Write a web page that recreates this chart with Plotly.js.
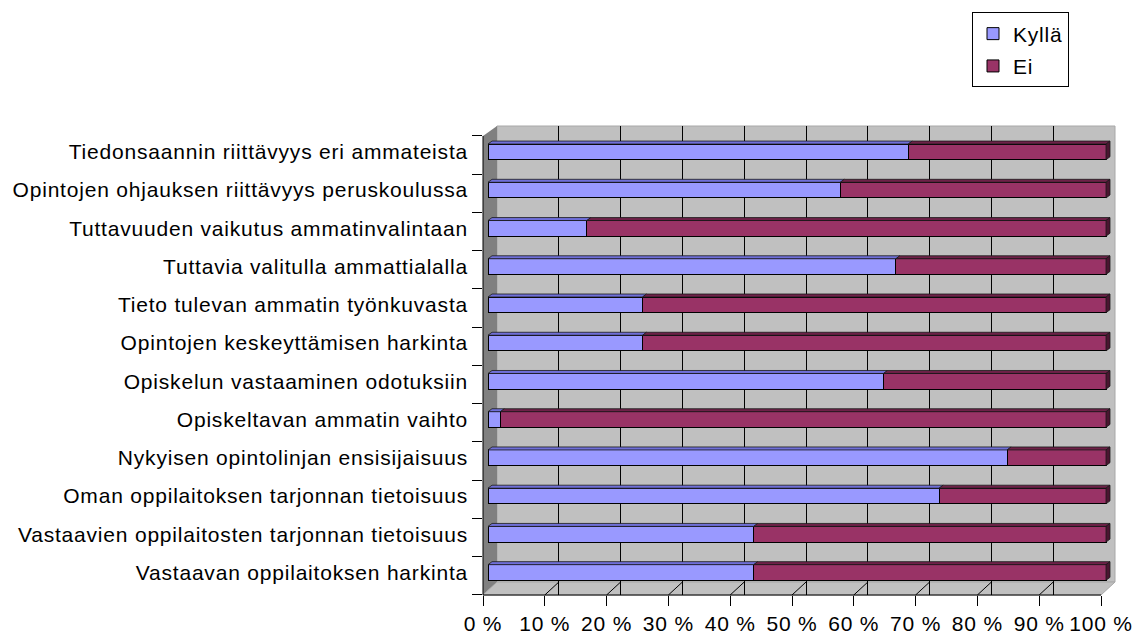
<!DOCTYPE html>
<html><head><meta charset="utf-8">
<script src="https://cdn.plot.ly/plotly-3.0.1.min.js"></script>
<style>
html,body{margin:0;padding:0;background:#fff;}
#chart{width:1143px;height:640px;}
.ytick text, .xtick text, .x3tick text, .legendtext { letter-spacing: 0.8px; }
</style>
</head><body><div id="chart"></div>
<script>
// ---- data (top-to-bottom as in the reference) ----
const categories = [
  'Tiedonsaannin riittävyys eri ammateista',
  'Opintojen ohjauksen riittävyys peruskoulussa',
  'Tuttavuuden vaikutus ammatinvalintaan',
  'Tuttavia valitulla ammattialalla',
  'Tieto tulevan ammatin työnkuvasta',
  'Opintojen keskeyttämisen harkinta',
  'Opiskelun vastaaminen odotuksiin',
  'Opiskeltavan ammatin vaihto',
  'Nykyisen opintolinjan ensisijaisuus',
  'Oman oppilaitoksen tarjonnan tietoisuus',
  'Vastaavien oppilaitosten tarjonnan tietoisuus',
  'Vastaavan oppilaitoksen harkinta'
];
const kylla = [68, 57, 16, 66, 25, 25, 64, 2, 84, 73, 43, 43];
const ei    = [32, 43, 84, 34, 75, 75, 36, 98, 16, 27, 57, 57];
const seriesNames = ['Kyllä', 'Ei'];
const xTickValues = [0, 10, 20, 30, 40, 50, 60, 70, 80, 90, 100];
const xTickLabels = ['0 %', '10 %', '20 %', '30 %', '40 %', '50 %', '60 %', '70 %', '80 %', '90 %', '100 %'];

// ---- layout geometry (pixels) ----
const L = 483, R = 1115, T = 124, B = 595;
const W = R - L, H = B - T;
const xScale = 6.18;          // px per percent
const barX0 = 488;            // front face 0 %
const wallX0 = 497;           // back wall 0 %
const tickX0 = 483;           // front axis 0 %
const yScale = 38.4;          // px per category
const topCenter = 150;        // px of top bar centre
const n = categories.length;
const rowIdx = categories.map((c, i) => n - 1 - i);
const yBottom = -((B - (topCenter + (n - 1) * yScale)) / yScale);
const yTop = (n - 1) + (topCenter - T) / yScale;
const tickOff = 16 / yScale;
const boundaryVals = [];
for (let i = -1; i < n; i++) boundaryVals.push(i + tickOff);

const px = v => (v - L) / W;
const py = v => (B - v) / H;

const font = {family: 'Liberation Sans, Arial, sans-serif', size: 21, color: '#000'};
const colKylla = '#9999ff', colEi = '#993366';

const traces = [
  {type: 'bar', orientation: 'h', name: seriesNames[0], x: kylla, y: rowIdx,
   marker: {color: colKylla, line: {color: '#000', width: 1}}, width: 0.41,
   legendgroup: 'a', hoverinfo: 'skip'},
  {type: 'bar', orientation: 'h', name: seriesNames[1], x: ei, y: rowIdx,
   marker: {color: colEi, line: {color: '#000', width: 1}}, width: 0.41,
   legendgroup: 'b', hoverinfo: 'skip'},
  {type: 'scatter', x: [], y: [], xaxis: 'x2', yaxis: 'y2', showlegend: false, hoverinfo: 'skip'},
  {type: 'scatter', x: [], y: [], xaxis: 'x3', yaxis: 'y2', showlegend: false, hoverinfo: 'skip'}
];

const shapes = [];
// back wall
shapes.push({type: 'rect', xref: 'paper', yref: 'paper', x0: px(wallX0), x1: 1, y0: py(582), y1: 1,
  fillcolor: '#c0c0c0', line: {color: '#a8a8a8', width: 1}, layer: 'below'});
// left wall
shapes.push({type: 'path', xref: 'paper', yref: 'paper', layer: 'between',
  path: `M ${px(483)},${py(134)} L ${px(497)},${py(124)} L ${px(497)},${py(582)} L ${px(483)},${py(595)} Z`,
  fillcolor: '#808080', line: {color: '#808080', width: 0}});
// floor
shapes.push({type: 'path', xref: 'paper', yref: 'paper', layer: 'between',
  path: `M ${px(483)},${py(595)} L ${px(497)},${py(582)} L ${px(1115)},${py(582)} L ${px(1101)},${py(595)} Z`,
  fillcolor: '#c0c0c0', line: {color: '#a8a8a8', width: 1}});
// floor lines
xTickValues.slice(1, -1).forEach(v => {
  shapes.push({type: 'line', xref: 'paper', yref: 'paper', layer: 'between',
    x0: px(tickX0 + v * xScale), y0: 0, x1: px(wallX0 + v * xScale), y1: py(582),
    line: {color: '#000', width: 1}});
});
// axis lines
shapes.push({type: 'line', xref: 'paper', yref: 'paper', x0: 0, x1: 0, y0: py(134), y1: 0,
  line: {color: '#000', width: 1}, layer: 'above'});
shapes.push({type: 'line', xref: 'paper', yref: 'paper', x0: 0, x1: px(tickX0 + 100 * xScale), y0: 0, y1: 0,
  line: {color: '#000', width: 1}, layer: 'above'});
// 3D faces of bars
const dx = 4 / xScale, dy = 3 / yScale, h = 0.205;
rowIdx.forEach((c, i) => {
  const segs = [[0, kylla[i], '#6f6fd8'], [kylla[i], kylla[i] + ei[i], '#6e2148']];
  segs.forEach(([a, b, col]) => {
    if (b <= a) return;
    shapes.push({type: 'path', xref: 'x', yref: 'y', layer: 'above',
      path: `M ${a},${c + h} L ${a + dx},${c + h + dy} L ${b + dx},${c + h + dy} L ${b},${c + h} Z`,
      fillcolor: col, line: {color: '#1a1a1a', width: 0.8}});
  });
  const e = kylla[i] + ei[i];
  shapes.push({type: 'path', xref: 'x', yref: 'y', layer: 'above',
    path: `M ${e},${c + h} L ${e + dx},${c + h + dy} L ${e + dx},${c - h + dy} L ${e},${c - h} Z`,
    fillcolor: '#4a1530', line: {color: '#1a1a1a', width: 0.8}});
});

const layout = {
  width: 1143, height: 640,
  margin: {l: L, r: 1143 - R, t: T, b: 640 - B, pad: 0},
  paper_bgcolor: '#fff', plot_bgcolor: 'rgba(0,0,0,0)',
  barmode: 'stack', bargap: 0.6,
  showlegend: true,
  legend: {x: px(972), xanchor: 'left', y: py(10), yanchor: 'top',
    bordercolor: '#000', borderwidth: 1, bgcolor: '#fff', font: font,
    tracegroupgap: 2, traceorder: 'grouped', itemwidth: 30},
  font: font,
  xaxis: {range: [(L - barX0) / xScale, (R - barX0) / xScale], showgrid: false, zeroline: false,
    showticklabels: false, ticks: '', showline: false, fixedrange: true},
  xaxis2: {overlaying: 'x', anchor: 'y', range: [(L - wallX0) / xScale, (R - wallX0) / xScale],
    tickvals: xTickValues.slice(1, -1), showgrid: true, gridcolor: '#000', gridwidth: 1,
    showticklabels: false, ticks: '', zeroline: false, showline: false, fixedrange: true},
  xaxis3: {overlaying: 'x', anchor: 'y', side: 'bottom', range: [0, W / xScale],
    tickvals: xTickValues, ticktext: xTickLabels, ticks: 'outside', ticklen: 10, tickcolor: '#000',
    tickfont: font, showgrid: false, zeroline: false, showline: false, fixedrange: true},
  yaxis: {range: [yBottom, yTop], tickvals: rowIdx, ticktext: categories, ticks: '',
    showgrid: false, zeroline: false, showline: false, tickfont: font,
    ticklabelstandoff: 14, fixedrange: true},
  yaxis2: {overlaying: 'y', anchor: 'x', side: 'left', range: [yBottom, yTop],
    tickvals: boundaryVals, showticklabels: false, ticks: 'outside', ticklen: 10, tickcolor: '#000',
    showgrid: false, zeroline: false, showline: false, fixedrange: true},
  shapes: shapes
};

Plotly.newPlot('chart', traces, layout, {displayModeBar: false, staticPlot: true});
</script>
</body></html>
